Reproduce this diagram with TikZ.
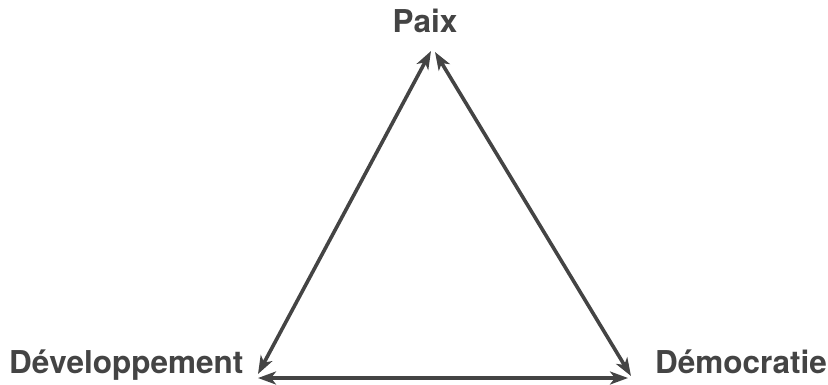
\documentclass[tikz,border=0pt]{standalone}
\usepackage{fontspec}
\setmainfont{TeX Gyre Heros}
\usetikzlibrary{arrows.meta}
\definecolor{ink}{HTML}{444444}
\begin{document}
\begin{tikzpicture}[x=1pt,y=-1pt,
  lbl/.style={anchor=base,inner sep=0pt,text=ink,font=\fontsize{31.5}{34}\selectfont\bfseries},
  conn/.style={draw=ink,line width=3.6pt,{Stealth[length=18pt,width=13pt,inset=5pt]}-{Stealth[length=18pt,width=13pt,inset=5pt]}}]
\useasboundingbox (0,0) rectangle (828,384);
\node[lbl] (paix) at (425,32) {Paix};
\node[lbl,anchor=base west] (dev) at (9,373) {Développement};
\node[lbl,anchor=base west] (dem) at (655,373) {Démocratie};
\coordinate (tl) at (431,51);
\coordinate (tr) at (435,52);
\coordinate (bl1) at (258,374);
\coordinate (bl2) at (258,378);
\coordinate (br1) at (628,378);
\coordinate (br2) at (631,376);
\draw[conn] (bl1) -- (tl);
\draw[conn] (tr) -- (br2);
\draw[conn] (bl2) -- (br1);
\end{tikzpicture}
\end{document}
